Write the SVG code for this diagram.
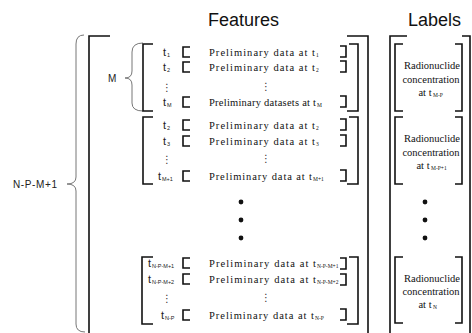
<svg xmlns="http://www.w3.org/2000/svg" width="472" height="333" viewBox="0 0 472 333">
  <style>
    .br { fill: none; stroke: #111; stroke-width: 1.6; }
    .brace { fill: none; stroke: #777; stroke-width: 1; }
    .title { font-family: "Liberation Sans", Arial, sans-serif; font-size: 18px; fill: #111; }
    .side { font-family: "Liberation Sans", Arial, sans-serif; font-size: 10px; fill: #222; }
    .t { font-family: "Liberation Sans", Arial, sans-serif; font-size: 11px; fill: #222; }
    .ts { font-family: "Liberation Sans", Arial, sans-serif; font-size: 5.5px; fill: #222; }
    .pre { font-family: "Liberation Serif", "Times New Roman", serif; font-size: 10.5px; fill: #111; }
    .ps { font-family: "Liberation Serif", "Times New Roman", serif; font-size: 5.5px; fill: #111; }
    .lab { font-family: "Liberation Serif", "Times New Roman", serif; font-size: 10.5px; fill: #111; text-anchor: middle; }
    .vd { font-family: "DejaVu Sans", sans-serif; font-size: 10px; fill: #333; text-anchor: middle; }
    .dot { fill: #111; }
  </style>

  <!-- column titles -->
  <text class="title" x="208" y="26">Features</text>
  <text class="title" x="408" y="26">Labels</text>

  <!-- braces and their counts -->
  <g id="brace-windows">
    <path class="brace" d="M84 35 Q76 35 76 44 L76 177 Q76 184 67 184 Q76 184 76 191 L76 324 Q76 332 85 332"/>
    <text class="side" x="13" y="188" textLength="44">N-P-M+1</text>
  </g>
  <g id="brace-m">
    <path class="brace" d="M143 43 Q132 43 132 52 L132 71 Q132 78 125 78 Q132 78 132 85 L132 103 Q132 111 143 111"/>
    <text class="side" x="108" y="82">M</text>
  </g>

  <!-- outer column brackets -->
  <g id="features-outer">
    <path class="br" d="M110 36 H89 V334"/>
    <path class="br" d="M347 36 H368 V334"/>
  </g>
  <g id="labels-outer">
    <path class="br" d="M407 36 H390 V334"/>
    <path class="br" d="M462 36 H470 V334"/>
  </g>

  <!-- window 1: t1 .. tM -->
  <g id="window-1">
    <path class="br" d="M153 44 H143 V111 H153"/>
    <path class="br" d="M349 44 H358 V111 H347"/>
    <text class="t" x="163" y="56">t</text><text class="ts" x="167" y="57">1</text>
    <text class="t" x="163" y="71">t</text><text class="ts" x="167" y="72">2</text>
    <text class="vd" x="167" y="91">⋮</text>
    <text class="t" x="163" y="106">t</text><text class="ts" x="167" y="107">M</text>
    <path class="br" d="M190 47 H183 V57 H190"/>
    <path class="br" d="M190 62 H183 V72 H190"/>
    <path class="br" d="M190 97 H183 V107 H190"/>
    <text class="pre" x="209" y="56" textLength="106">Preliminary data at t</text><text class="ps" x="316" y="57">1</text>
    <text class="pre" x="209" y="71" textLength="106">Preliminary data at t</text><text class="ps" x="316" y="72">2</text>
    <text class="vd" x="266" y="90">⋮</text>
    <text class="pre" x="209" y="106" textLength="107">Preliminary datasets at t</text><text class="ps" x="317" y="107">M</text>
    <path class="br" d="M340 46 H346 V57 H340"/>
    <path class="br" d="M340 61 H346 V72 H340"/>
    <path class="br" d="M340 96 H346 V107 H340"/>
  </g>

  <!-- window 2: t2 .. tM+1 -->
  <g id="window-2">
    <path class="br" d="M153 117 H143 V184 H153"/>
    <path class="br" d="M349 117 H358 V184 H347"/>
    <text class="t" x="163" y="129">t</text><text class="ts" x="167" y="130">2</text>
    <text class="t" x="163" y="145">t</text><text class="ts" x="167" y="146">3</text>
    <text class="vd" x="167" y="163">⋮</text>
    <text class="t" x="158" y="180">t</text><text class="ts" x="162" y="181">M+1</text>
    <path class="br" d="M190 120 H183 V130 H190"/>
    <path class="br" d="M190 136 H183 V146 H190"/>
    <path class="br" d="M190 171 H183 V181 H190"/>
    <text class="pre" x="209" y="129" textLength="106">Preliminary data at t</text><text class="ps" x="316" y="130">2</text>
    <text class="pre" x="209" y="145" textLength="106">Preliminary data at t</text><text class="ps" x="316" y="146">3</text>
    <text class="vd" x="266" y="162">⋮</text>
    <text class="pre" x="209" y="180" textLength="103">Preliminary data at t</text><text class="ps" x="313" y="181">M+1</text>
    <path class="br" d="M340 119 H346 V130 H340"/>
    <path class="br" d="M340 135 H346 V146 H340"/>
    <path class="br" d="M340 170 H346 V181 H340"/>
  </g>

  <!-- windows in between -->
  <g id="features-gap">
    <circle class="dot" cx="241" cy="202" r="2.4"/>
    <circle class="dot" cx="241" cy="220" r="2.4"/>
    <circle class="dot" cx="241" cy="238" r="2.4"/>
  </g>

  <!-- last window: tN-P-M+1 .. tN-P -->
  <g id="window-last">
    <path class="br" d="M153 257 H142 V324 H153"/>
    <path class="br" d="M349 257 H358 V324 H347"/>
    <text class="t" x="148" y="267">t</text><text class="ts" x="152" y="268">N-P-M+1</text>
    <text class="t" x="148" y="283">t</text><text class="ts" x="152" y="284">N-P-M+2</text>
    <text class="vd" x="167" y="302">⋮</text>
    <text class="t" x="161" y="319">t</text><text class="ts" x="165" y="320">N-P</text>
    <path class="br" d="M190 258 H183 V268 H190"/>
    <path class="br" d="M190 274 H183 V284 H190"/>
    <path class="br" d="M190 310 H183 V320 H190"/>
    <text class="pre" x="209" y="267" textLength="107">Preliminary data at t</text><text class="ps" x="317" y="268">N-P-M+1</text>
    <text class="pre" x="209" y="283" textLength="107">Preliminary data at t</text><text class="ps" x="317" y="284">N-P-M+2</text>
    <text class="vd" x="266" y="301">⋮</text>
    <text class="pre" x="209" y="319" textLength="105">Preliminary data at t</text><text class="ps" x="315" y="320">N-P</text>
    <path class="br" d="M340 258 H346 V269 H340"/>
    <path class="br" d="M340 274 H346 V285 H340"/>
    <path class="br" d="M340 309 H346 V320 H340"/>
  </g>

  <!-- labels -->
  <g id="label-1">
    <path class="br" d="M403 44 H395 V111 H403"/>
    <path class="br" d="M455 44 H462 V111 H455"/>
    <text class="lab" x="432" y="68.5">Radionuclide</text>
    <text class="lab" x="431" y="82.5">concentration</text>
    <text class="lab" x="425" y="96">at t</text><text class="ps" x="433" y="97">M-P</text>
  </g>
  <g id="label-2">
    <path class="br" d="M403 117 H395 V184 H403"/>
    <path class="br" d="M455 117 H462 V184 H455"/>
    <text class="lab" x="432" y="141.5">Radionuclide</text>
    <text class="lab" x="431" y="155.5">concentration</text>
    <text class="lab" x="423" y="169">at t</text><text class="ps" x="431" y="170">M-P+1</text>
  </g>
  <g id="labels-gap">
    <circle class="dot" cx="425" cy="202" r="2.4"/>
    <circle class="dot" cx="425" cy="220" r="2.4"/>
    <circle class="dot" cx="425" cy="238" r="2.4"/>
  </g>
  <g id="label-last">
    <path class="br" d="M403 257 H395 V323 H403"/>
    <path class="br" d="M455 257 H462 V323 H455"/>
    <text class="lab" x="425" y="307.5">at t</text><text class="ps" x="433" y="308.5">N</text>
    <text class="lab" x="432" y="281.5">Radionuclide</text>
    <text class="lab" x="431" y="294.5">concentration</text>
  </g>
</svg>
